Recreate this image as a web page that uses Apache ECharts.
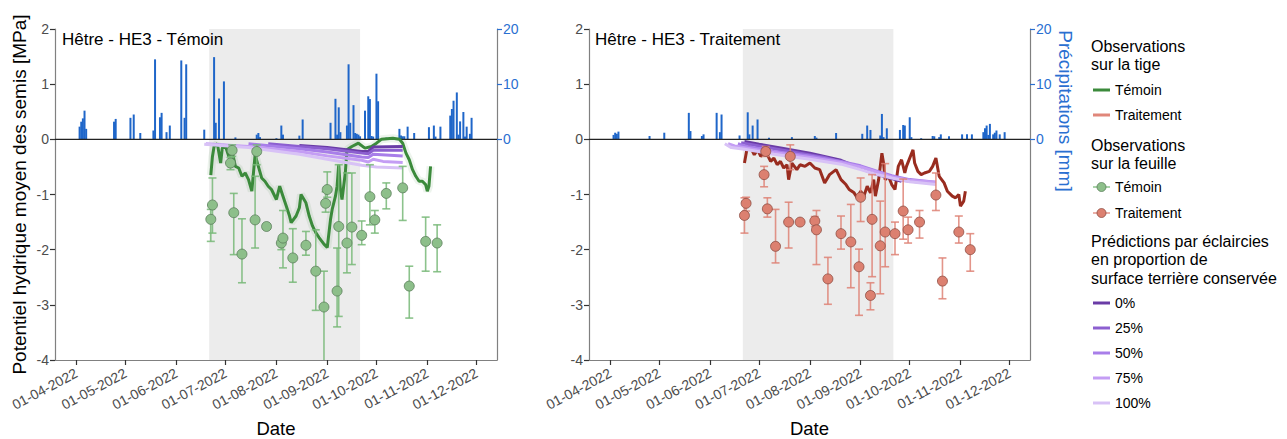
<!DOCTYPE html>
<html><head><meta charset="utf-8">
<script src="https://cdn.jsdelivr.net/npm/echarts@6/dist/echarts.min.js"></script>
<style>html,body{margin:0;padding:0;background:#fff}#c{width:1287px;height:439px}</style>
</head><body><div id="c"></div><script>
// ---------------- DATA ----------------
const monthTicks = ['2022-04-01','2022-05-01','2022-06-01','2022-07-01','2022-08-01','2022-09-01','2022-10-01','2022-11-01','2022-12-01'];
const panelTitles = ['Hêtre - HE3 - Témoin', 'Hêtre - HE3 - Traitement'];
const summerPeriod = ['2022-06-21', '2022-09-21'];

const precipLeftDates = ['2022-04-03','2022-04-04','2022-04-05','2022-04-06','2022-04-07','2022-04-24','2022-04-25','2022-05-04','2022-05-06','2022-05-10','2022-05-18','2022-05-19','2022-05-22','2022-05-23','2022-05-26','2022-05-28','2022-06-04','2022-06-06','2022-06-07','2022-06-18','2022-06-24','2022-06-25','2022-06-27','2022-06-30','2022-07-07','2022-07-20','2022-07-21','2022-07-22','2022-08-01','2022-08-04','2022-08-05','2022-08-15','2022-08-17','2022-09-03','2022-09-06','2022-09-07','2022-09-08','2022-09-09','2022-09-13','2022-09-14','2022-09-15','2022-09-17','2022-09-18','2022-09-19','2022-09-20','2022-09-21','2022-09-24','2022-09-26','2022-09-27','2022-09-28','2022-09-29','2022-10-01','2022-10-02','2022-10-07','2022-10-15','2022-10-16','2022-10-17','2022-10-18','2022-10-20','2022-10-24','2022-11-02','2022-11-05','2022-11-06','2022-11-09','2022-11-15','2022-11-16','2022-11-17','2022-11-19','2022-11-20','2022-11-21','2022-11-23','2022-11-24','2022-11-25','2022-11-27','2022-11-28'];
const precipLeftValues = [2.3,3.2,3.8,5.2,1.9,3.2,3.7,3.9,4.5,1.15,1.6,14.5,4.0,4.8,1.3,2.5,14.3,3.9,13.6,1.75,14.9,3.0,7.4,10.5,0.35,0.85,1.15,0.4,0.2,2.5,0.85,0.67,3.6,3.0,7.35,0.85,5.8,1.3,2.5,13.6,3.0,6.2,1.15,1.0,0.85,0.55,5.2,7.8,7.3,0.6,0.5,11.9,6.9,0.3,1.9,0.7,0.55,0.55,2.3,1.15,2.2,2.5,0.5,2.3,4.3,5.5,7.0,8.5,0.85,3.25,4.95,0.5,2.3,1.0,3.9];

const precipRightDates = ['2022-04-03','2022-04-04','2022-04-05','2022-04-06','2022-04-25','2022-05-04','2022-05-19','2022-05-20','2022-05-27','2022-05-28','2022-06-05','2022-06-07','2022-06-08','2022-06-19','2022-06-24','2022-06-25','2022-06-27','2022-06-30','2022-07-07','2022-07-21','2022-08-04','2022-08-05','2022-08-17','2022-09-02','2022-09-05','2022-09-07','2022-09-13','2022-09-14','2022-09-15','2022-09-17','2022-09-25','2022-09-27','2022-09-28','2022-10-01','2022-10-02','2022-10-08','2022-10-15','2022-10-16','2022-10-19','2022-10-20','2022-10-25','2022-11-02','2022-11-05','2022-11-08','2022-11-15','2022-11-16','2022-11-17','2022-11-18','2022-11-19','2022-11-21','2022-11-22','2022-11-23','2022-11-25','2022-11-28'];
const precipRightValues = [0.8,1.2,1.0,1.4,0.6,1.2,4.8,1.5,0.6,0.9,4.8,1.3,4.5,0.7,4.9,0.9,2.5,3.6,0.3,0.4,0.6,0.3,1.15,1.0,2.5,1.7,0.7,4.6,0.4,2.0,1.7,2.6,2.5,4.0,0.4,0.2,0.6,0.55,0.4,0.9,0.55,0.9,0.9,0.9,1.3,2.0,2.5,0.8,2.8,0.9,1.2,1.6,0.9,1.3];

// stem (tige) observations
const stemTemoinDates = ['2022-06-22','2022-06-23','2022-06-24','2022-06-26','2022-06-28','2022-06-29','2022-07-01','2022-07-03','2022-07-05','2022-07-07','2022-07-09','2022-07-11','2022-07-13','2022-07-15','2022-07-17','2022-07-19','2022-07-21','2022-07-23','2022-07-25','2022-07-27','2022-07-29','2022-08-01','2022-08-03','2022-08-05','2022-08-07','2022-08-09','2022-08-10','2022-08-13','2022-08-15','2022-08-16','2022-08-19','2022-08-21','2022-08-23','2022-08-25','2022-08-27','2022-08-30','2022-09-01','2022-09-03','2022-09-04','2022-09-06','2022-09-07','2022-09-08','2022-09-09','2022-09-10','2022-09-11','2022-09-12','2022-09-13','2022-09-16','2022-09-20','2022-09-24','2022-09-28','2022-10-01','2022-10-04','2022-10-11','2022-10-15','2022-10-17','2022-10-19','2022-10-21','2022-10-23','2022-10-25','2022-10-27','2022-10-29','2022-10-31','2022-11-01','2022-11-02','2022-11-03'];
const stemTemoinValues = [-0.65,-0.31,-0.13,-0.08,-0.43,-0.16,-0.13,-0.31,-0.22,-0.49,-0.52,-0.67,-0.61,-0.73,-0.94,-0.28,-0.49,-0.70,-0.76,-0.85,-0.91,-1.09,-0.85,-1.03,-1.21,-1.39,-1.51,-1.39,-1.24,-1.0,-1.15,-1.39,-1.57,-1.69,-1.78,-1.90,-1.96,-1.45,-1.27,-1.03,-0.85,-0.46,-0.91,-1.09,-0.85,-0.61,-0.19,-0.13,-0.07,-0.16,-0.13,-0.07,0.0,0.02,0.0,-0.07,-0.25,-0.37,-0.55,-0.67,-0.76,-0.76,-0.82,-0.94,-0.85,-0.49];

const stemTraitDates = ['2022-06-22','2022-06-24','2022-06-26','2022-06-28','2022-06-30','2022-07-02','2022-07-04','2022-07-06','2022-07-08','2022-07-10','2022-07-12','2022-07-14','2022-07-16','2022-07-18','2022-07-19','2022-07-21','2022-07-24','2022-07-26','2022-07-29','2022-08-01','2022-08-04','2022-08-07','2022-08-10','2022-08-13','2022-08-17','2022-08-20','2022-08-23','2022-08-25','2022-08-28','2022-08-30','2022-09-01','2022-09-03','2022-09-05','2022-09-07','2022-09-09','2022-09-10','2022-09-12','2022-09-14','2022-09-15','2022-09-16','2022-09-18','2022-09-20','2022-09-22','2022-09-24','2022-09-26','2022-09-28','2022-09-29','2022-10-01','2022-10-03','2022-10-04','2022-10-06','2022-10-08','2022-10-10','2022-10-13','2022-10-15','2022-10-17','2022-10-19','2022-10-22','2022-10-24','2022-10-27','2022-10-29','2022-10-31','2022-11-01','2022-11-03','2022-11-04'];
const stemTraitValues = [-0.43,-0.10,-0.16,-0.28,-0.19,-0.31,-0.25,-0.28,-0.40,-0.34,-0.46,-0.40,-0.52,-0.46,-0.73,-0.43,-0.55,-0.46,-0.49,-0.43,-0.52,-0.55,-0.79,-0.64,-0.55,-0.73,-0.82,-0.91,-0.97,-1.06,-0.94,-1.03,-0.85,-0.97,-0.73,-1.03,-0.73,-0.25,-0.43,-0.73,-0.67,-0.82,-0.91,-0.49,-0.37,-0.61,-0.49,-0.34,-0.19,-0.43,-0.58,-0.64,-0.61,-0.58,-0.49,-0.34,-0.67,-0.79,-0.94,-1.03,-1.06,-1.00,-1.21,-1.12,-0.94];

// leaf (feuille) observations: mean, upper and lower error bar ends
const leafTemoinDates = ['2022-06-22','2022-06-23','2022-07-04','2022-07-05','2022-07-06','2022-07-11','2022-07-19','2022-07-20','2022-07-26','2022-08-04','2022-08-05','2022-08-11','2022-08-19','2022-08-25','2022-08-30','2022-08-31','2022-09-01','2022-09-07','2022-09-08','2022-09-13','2022-09-16','2022-09-22','2022-09-27','2022-09-30','2022-10-07','2022-10-17','2022-10-21','2022-10-31','2022-11-07'];
const leafTemoinMean = [-1.45,-1.19,-0.43,-0.20,-1.33,-2.08,-1.46,-0.22,-1.58,-1.88,-1.79,-2.15,-1.92,-2.39,-3.04,-1.16,-0.91,-2.75,-1.58,-1.88,-1.59,-1.74,-1.04,-1.46,-0.98,-0.88,-2.66,-1.85,-1.88];
const leafTemoinHigh = [-1.27,-0.70,-0.33,-0.10,-0.98,-1.44,-0.67,-0.10,-1.56,-1.80,-1.29,-1.62,-1.67,-1.64,-2.39,-0.95,-0.59,-1.97,-0.46,-0.61,-0.61,-1.48,-0.46,-1.29,-0.79,-0.49,-2.30,-1.41,-1.55];
const leafTemoinLow = [-1.85,-1.70,-0.55,-0.31,-2.09,-2.60,-1.97,-0.46,-1.60,-2.00,-2.33,-2.59,-2.10,-3.10,-4.50,-1.32,-1.05,-3.40,-3.21,-2.42,-2.27,-1.91,-1.55,-1.70,-1.26,-1.47,-3.24,-2.39,-2.40];

const leafTraitDates = ['2022-06-22','2022-06-23','2022-07-04','2022-07-05','2022-07-06','2022-07-11','2022-07-19','2022-07-20','2022-07-26','2022-08-04','2022-08-05','2022-08-12','2022-08-20','2022-08-26','2022-08-31','2022-09-01','2022-09-07','2022-09-08','2022-09-13','2022-09-16','2022-09-22','2022-09-27','2022-09-30','2022-10-07','2022-10-17','2022-10-21','2022-10-31','2022-11-07'];
const leafTraitMean = [-1.38,-1.16,-0.64,-0.22,-1.26,-1.94,-1.50,-0.31,-1.50,-1.48,-1.64,-2.53,-1.71,-1.86,-2.31,-1.05,-2.83,-1.45,-1.93,-1.68,-1.71,-1.30,-1.64,-1.50,-1.01,-2.57,-1.68,-2.00];
const leafTraitHigh = [-1.06,-1.05,-0.49,-0.13,-1.06,-1.27,-1.14,-0.10,-1.49,-1.40,-1.29,-2.14,-1.39,-1.18,-1.99,-0.70,-2.60,-0.64,-1.12,-0.44,-1.50,-0.72,-1.41,-1.29,-0.61,-2.15,-1.39,-1.71];
const leafTraitLow = [-1.70,-1.30,-0.86,-0.31,-1.41,-2.24,-1.97,-0.55,-1.51,-1.58,-2.27,-2.99,-1.99,-2.69,-3.19,-1.49,-3.09,-2.49,-2.80,-2.31,-2.09,-1.81,-1.88,-1.79,-1.29,-2.89,-1.88,-2.39];

// predictions by thinning level (share of basal area kept)
const predLevels = ['0%','25%','50%','75%','100%'];
const predLeftDates = [
  ['2022-08-15','2022-09-01','2022-09-22','2022-09-26','2022-09-29','2022-10-17'],
  ['2022-07-27','2022-08-15','2022-09-01','2022-09-22','2022-09-26','2022-09-29','2022-10-17'],
  ['2022-07-15','2022-08-15','2022-09-01','2022-09-22','2022-09-26','2022-09-29','2022-10-17'],
  ['2022-06-19','2022-07-15','2022-08-15','2022-09-01','2022-09-22','2022-09-26','2022-09-29','2022-10-05','2022-10-17'],
  ['2022-06-18','2022-07-15','2022-08-15','2022-09-01','2022-09-22','2022-10-01','2022-10-17']
];
const predLeftValues = [
  [-0.11,-0.15,-0.22,-0.22,-0.14,-0.13],
  [-0.08,-0.13,-0.17,-0.25,-0.26,-0.20,-0.20],
  [-0.08,-0.17,-0.23,-0.32,-0.33,-0.27,-0.30],
  [-0.08,-0.13,-0.22,-0.30,-0.38,-0.41,-0.36,-0.40,-0.42],
  [-0.09,-0.15,-0.27,-0.36,-0.47,-0.50,-0.52]
];
const predRightDates = [
  ['2022-06-22','2022-07-01','2022-07-15','2022-08-01','2022-08-20','2022-09-07','2022-09-26'],
  ['2022-06-20','2022-07-01','2022-07-20','2022-08-10','2022-09-01','2022-09-15','2022-09-26','2022-10-05'],
  ['2022-06-18','2022-06-22','2022-07-10','2022-08-01','2022-08-20','2022-09-01','2022-09-10','2022-09-20','2022-10-01','2022-10-17'],
  ['2022-06-12','2022-06-16','2022-06-22','2022-07-10','2022-08-01','2022-08-20','2022-09-01','2022-09-10','2022-09-20','2022-10-01','2022-10-17'],
  ['2022-06-10','2022-06-14','2022-06-22','2022-07-10','2022-08-01','2022-08-20','2022-09-01','2022-09-10','2022-09-20','2022-10-01','2022-10-17']
];
const predRightValues = [
  [-0.04,-0.09,-0.16,-0.25,-0.38,-0.60,-0.76],
  [-0.06,-0.12,-0.22,-0.33,-0.50,-0.64,-0.74,-0.77],
  [-0.08,-0.12,-0.22,-0.30,-0.40,-0.48,-0.57,-0.66,-0.73,-0.78],
  [-0.08,-0.12,-0.15,-0.24,-0.33,-0.42,-0.50,-0.58,-0.68,-0.74,-0.78],
  [-0.08,-0.15,-0.18,-0.27,-0.36,-0.45,-0.55,-0.63,-0.70,-0.77,-0.82]
];

// ---------------- STYLE ----------------
const FONT = 'Liberation Sans, Arial, sans-serif';
const GREEN = '#3b8a3b', RED = '#992c1f', SALMON = '#e0877a';
const PT_GREEN = '#8dbf8a', PT_GREEN_B = '#5b7d5b', EB_GREEN = 'rgba(120,185,120,0.85)';
const PT_RED = '#dc8070', PT_RED_B = '#8d4c42', EB_RED = 'rgba(222,130,118,0.85)';
const PURPLES = ['#6a3ca6','#8c5fd0','#a87ee9','#c49df4','#d8c2f6'];
const BLUE = '#1f66c9', BLUE_TXT = '#2a6fd1', AXIS = '#808080', TICKTXT = '#4d4d4d';

const T = s => { const p = s.split('-').map(Number); return new Date(p[0], p[1]-1, p[2]).getTime(); };
const X_MIN = T('2022-03-19'), X_MAX = T('2022-12-13') + 12*3600e3;
const monthTs = monthTicks.map(T);
const pad = n => String(n).padStart(2,'0');
const fmtDate = v => { const d = new Date(v); return pad(d.getDate())+'-'+pad(d.getMonth()+1)+'-'+d.getFullYear(); };
const zip = (ds, vs) => ds.map((d,k)=>[T(d), vs[k]]);

const grids = [
  {left:55, right:790, top:29, bottom:79, outerBoundsMode:'none', containLabel:false},
  {left:589, right:257, top:29, bottom:79, outerBoundsMode:'none', containLabel:false}
];

const xAxes = [], yAxes = [], series = [];

function errRender(color) {
  return function(params, api) {
    const x = api.value(0), hi = api.value(1), lo = api.value(2);
    const a = api.coord([x, hi]), b = api.coord([x, lo]);
    const hw = 4, st = {stroke: color, lineWidth: 1.6, fill: null};
    return {type:'group', children:[
      {type:'line', shape:{x1:a[0], y1:a[1], x2:b[0], y2:b[1]}, style:st},
      {type:'line', shape:{x1:a[0]-hw, y1:a[1], x2:a[0]+hw, y2:a[1]}, style:st},
      {type:'line', shape:{x1:b[0]-hw, y1:b[1], x2:b[0]+hw, y2:b[1]}, style:st}
    ]};
  };
}

const panels = [
  {pDates: precipLeftDates, pVals: precipLeftValues, sDates: stemTemoinDates, sVals: stemTemoinValues, sColor: GREEN, ribbon: 0.09,
   lDates: leafTemoinDates, lMean: leafTemoinMean, lHi: leafTemoinHigh, lLo: leafTemoinLow, ptColor: PT_GREEN, ptBorder: PT_GREEN_B, ebColor: EB_GREEN,
   predD: predLeftDates, predV: predLeftValues},
  {pDates: precipRightDates, pVals: precipRightValues, sDates: stemTraitDates, sVals: stemTraitValues, sColor: RED, ribbon: 0,
   lDates: leafTraitDates, lMean: leafTraitMean, lHi: leafTraitHigh, lLo: leafTraitLow, ptColor: PT_RED, ptBorder: PT_RED_B, ebColor: EB_RED,
   predD: predRightDates, predV: predRightValues}
];

panels.forEach((P, i) => {
  xAxes.push({
    type:'value', gridIndex:i, min:X_MIN, max:X_MAX, scale:true,
    axisLine:{show:true, onZero:false, lineStyle:{color:AXIS, width:1.2}},
    axisTick:{show:true, customValues:monthTs, length:5, lineStyle:{color:'#333', width:1.2}},
    axisLabel:{show:true, customValues:monthTs, formatter:fmtDate, rotate:28, fontSize:14, color:TICKTXT, fontFamily:FONT, margin:12, hideOverlap:false},
    splitLine:{show:false},
    name:'Date', nameLocation:'middle', nameGap:59, nameTextStyle:{fontSize:18.5, color:'#000', fontFamily:FONT}
  });
  yAxes.push({
    type:'value', gridIndex:i, min:-4, max:2, interval:1, position:'left',
    axisLine:{show:true, onZero:false, lineStyle:{color:AXIS, width:1.2}},
    axisTick:{show:true, length:5, lineStyle:{color:'#333', width:1.2}},
    axisLabel:{fontSize:14, color:TICKTXT, fontFamily:FONT, margin:6},
    splitLine:{show:false},
    name: i === 0 ? 'Potentiel hydrique moyen des semis [MPa]' : '',
    nameLocation:'middle', nameGap:26, nameTextStyle:{fontSize:19, color:'#000', fontFamily:FONT}
  });
  yAxes.push({
    type:'value', gridIndex:i, min:-40, max:20, interval:10, position:'right',
    axisLine:{show:true, onZero:false, lineStyle:{color:AXIS, width:1.2}},
    axisTick:{show:true, customValues:[0,10,20], length:5, lineStyle:{color:BLUE_TXT, width:1.2}},
    axisLabel:{customValues:[0,10,20], fontSize:14, color:BLUE_TXT, fontFamily:FONT, margin:6},
    splitLine:{show:false}
  });
  const yMPa = 2*i, yP = 2*i+1;
  // summer shading
  series.push({type:'custom', xAxisIndex:i, yAxisIndex:yMPa, z:0, silent:true,
    data:[[T(summerPeriod[0]), T(summerPeriod[1])]],
    renderItem:(params, api) => {
      const cs = params.coordSys;
      const x1 = api.coord([api.value(0), 0])[0], x2 = api.coord([api.value(1), 0])[0];
      return {type:'rect', shape:{x:x1, y:cs.y, width:x2-x1, height:cs.height}, style:{fill:'#ececec'}};
    }});
  // precipitation bars
  series.push({type:'bar', xAxisIndex:i, yAxisIndex:yP, z:2, barWidth:2, silent:true,
    data: zip(P.pDates, P.pVals), itemStyle:{color:BLUE}});
  // zero line
  series.push({type:'line', xAxisIndex:i, yAxisIndex:yMPa, z:3, silent:true, symbol:'none',
    data:[[X_MIN,0],[X_MAX,0]], lineStyle:{color:'#222', width:1.3}});
  // stem ribbon + line
  if (P.ribbon > 0) {
    series.push({type:'line', xAxisIndex:i, yAxisIndex:yMPa, z:4, silent:true, symbol:'none',
      data: zip(P.sDates, P.sVals), lineStyle:{color:P.sColor, width:8, opacity:P.ribbon}});
  }
  series.push({type:'line', xAxisIndex:i, yAxisIndex:yMPa, z:5, silent:true, symbol:'none',
    data: zip(P.sDates, P.sVals), lineStyle:{color:P.sColor, width:3}});
  // predictions
  P.predD.forEach((ds, k) => {
    series.push({type:'line', xAxisIndex:i, yAxisIndex:yMPa, z:6, silent:true, symbol:'none',
      data: zip(ds, P.predV[k]), lineStyle:{color:PURPLES[k], width:3}});
  });
  // error bars
  series.push({type:'custom', xAxisIndex:i, yAxisIndex:yMPa, z:7, silent:true, clip:true,
    data: P.lDates.map((d,k)=>[T(d), P.lHi[k], P.lLo[k]]), renderItem: errRender(P.ebColor)});
  // leaf points
  series.push({type:'scatter', xAxisIndex:i, yAxisIndex:yMPa, z:8, silent:true, symbol:'circle', symbolSize:10,
    data: zip(P.lDates, P.lMean), itemStyle:{color:P.ptColor, borderColor:P.ptBorder, borderWidth:0.8, opacity:1}});
});

// ---------------- TEXT / LEGEND ----------------
const g = [];
g.push({type:'text', z:100, left:62, top:31, style:{text:panelTitles[0], fontSize:17, fill:'#000', fontFamily:FONT}});
g.push({type:'text', z:100, left:595, top:31, style:{text:panelTitles[1], fontSize:17, fill:'#000', fontFamily:FONT}});
g.push({type:'text', z:100, x:1065, y:111, rotation:-Math.PI/2, style:{text:'Précipitations [mm]', fontSize:19, fill:BLUE_TXT, fontFamily:FONT, align:'center', verticalAlign:'middle'}});

const LX = 1091;
function title(y, txt) { g.push({type:'text', z:100, x:LX, y:y, style:{text:txt, fontSize:16, lineHeight:18.3, fill:'#000', fontFamily:FONT, verticalAlign:'top'}}); }
function lineItem(y, color, label) {
  g.push({type:'line', z:100, shape:{x1:1093, y1:y, x2:1110, y2:y}, style:{stroke:color, lineWidth:3}});
  g.push({type:'text', z:100, x:1115, y:y, style:{text:label, fontSize:14, fill:'#000', fontFamily:FONT, verticalAlign:'middle'}});
}
function pointItem(y, lc, fc, bc, label) {
  g.push({type:'line', z:100, shape:{x1:1093, y1:y, x2:1110, y2:y}, style:{stroke:lc, lineWidth:1.5}});
  g.push({type:'circle', z:101, shape:{cx:1101.5, cy:y, r:4.5}, style:{fill:fc, stroke:bc, lineWidth:0.8}});
  g.push({type:'text', z:100, x:1115, y:y, style:{text:label, fontSize:14, fill:'#000', fontFamily:FONT, verticalAlign:'middle'}});
}
title(37.5, 'Observations\nsur la tige');
lineItem(90, GREEN, 'Témoin');
lineItem(115, SALMON, 'Traitement');
title(136, 'Observations\nsur la feuille');
pointItem(187, EB_GREEN, PT_GREEN, PT_GREEN_B, 'Témoin');
pointItem(213, EB_RED, PT_RED, PT_RED_B, 'Traitement');
title(232.5, 'Prédictions par éclaircies\nen proportion de\nsurface terrière conservée');
const predY = [303, 328, 353, 378, 403];
predLevels.forEach((lab, k) => lineItem(predY[k], PURPLES[k], lab));

const chart = echarts.init(document.getElementById('c'), null, {renderer:'svg'});
chart.setOption({
  animation:false,
  backgroundColor:'#fff',
  textStyle:{fontFamily:FONT},
  grid: grids,
  xAxis: xAxes,
  yAxis: yAxes,
  series: series,
  graphic: g
});
</script></body></html>
